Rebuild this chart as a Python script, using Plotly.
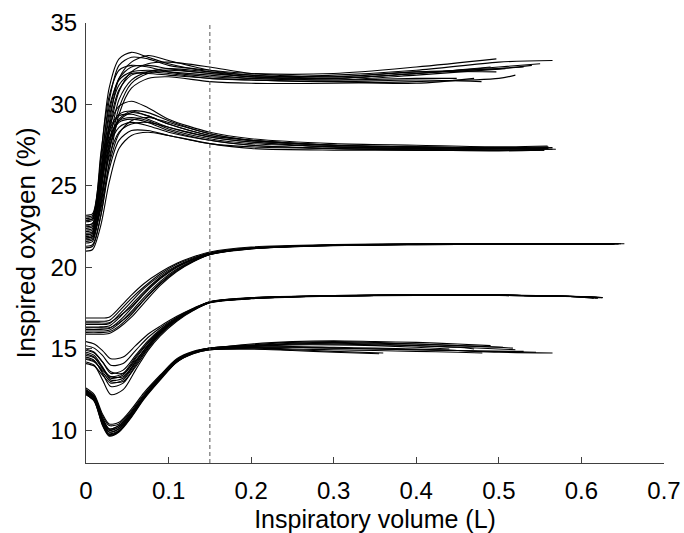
import plotly.graph_objects as go

# Sample positions (L) shared by the curves of each group; every curve ends at its own volume.
GRID_HI = [0, 0.008, 0.018, 0.028, 0.04, 0.055, 0.075, 0.1, 0.15, 0.2, 0.3, 0.4, 0.5]
GRID_21 = [0, 0.015, 0.028, 0.04, 0.055, 0.07, 0.09, 0.11, 0.13, 0.15, 0.2, 0.3, 0.4, 0.5, 0.6]
GRID_18 = [0, 0.01, 0.02, 0.03, 0.045, 0.06, 0.075, 0.09, 0.11, 0.13, 0.15, 0.2, 0.3, 0.4, 0.5, 0.6]
GRID_15 = [0, 0.01, 0.02, 0.028, 0.04, 0.055, 0.07, 0.09, 0.11, 0.13, 0.15, 0.2, 0.25, 0.3, 0.35, 0.4, 0.45, 0.5]

# Inspired O2 (%) per breath; last value sits at the breath's end volume.
O2_32 = [
    [22.0, 22.1, 26.8, 31.0, 32.8, 33.2, 32.9, 32.5, 32.0, 31.7, 31.8, 32.1, 32.6, 32.7],
    [22.6, 22.7, 26.0, 30.2, 32.4, 32.9, 32.8, 32.4, 32.1, 31.9, 31.9, 32.3, 32.8],
    [21.5, 21.6, 24.5, 28.8, 31.6, 32.6, 33.0, 32.7, 32.1, 31.8, 31.7, 32.0, 32.2, 32.4],
    [23.2, 23.3, 26.5, 29.8, 31.5, 32.0, 32.1, 32.0, 31.8, 31.6, 31.5, 31.6, 31.6],
    [22.3, 22.4, 25.2, 28.6, 30.9, 31.8, 32.0, 31.9, 31.6, 31.5, 31.4, 31.5, 31.4],
    [21.8, 21.9, 24.0, 27.5, 30.3, 31.5, 32.0, 32.2, 32.0, 31.8, 31.6, 31.9, 32.2, 32.3],
    [22.9, 23.0, 25.8, 29.5, 31.6, 32.3, 32.4, 32.2, 31.9, 31.7, 31.5, 31.8, 32.2],
    [21.2, 21.3, 23.2, 26.4, 29.4, 31.0, 31.6, 31.7, 31.4, 31.3, 31.3, 31.4, 31.6, 31.8],
    [22.1, 22.2, 24.8, 28.2, 30.8, 32.0, 32.5, 32.6, 32.3, 31.9, 31.7, 32.0, 32.0],
    [22.5, 22.6, 25.6, 29.2, 31.2, 31.9, 31.9, 31.8, 31.6, 31.5, 31.4, 31.3, 31.6],
    [21.7, 21.8, 23.8, 27.0, 29.8, 31.3, 31.9, 32.1, 31.9, 31.7, 31.6, 31.9, 32.3, 32.5],
    [23.0, 23.1, 27.0, 30.5, 32.1, 32.4, 32.3, 32.0, 31.7, 31.6, 31.6, 31.9, 32.3],
]
END_32 = [0.565, 0.497, 0.54, 0.449, 0.479, 0.53, 0.508, 0.52, 0.497, 0.47, 0.55, 0.49]

O2_27 = [
    [22.2, 22.3, 25.5, 28.6, 29.9, 30.2, 29.8, 29.1, 28.3, 27.9, 27.6, 27.5, 27.4, 27.45],
    [21.6, 21.7, 24.0, 27.2, 29.0, 29.5, 29.3, 28.8, 28.1, 27.8, 27.5, 27.4, 27.3, 27.25],
    [22.8, 22.9, 25.8, 28.2, 29.3, 29.4, 29.1, 28.6, 28.0, 27.7, 27.4, 27.3, 27.3, 27.3],
    [21.3, 21.4, 23.2, 26.0, 27.8, 28.4, 28.4, 28.1, 27.6, 27.4, 27.3, 27.2, 27.2, 27.2],
    [22.4, 22.5, 24.8, 27.6, 29.1, 29.6, 29.5, 29.0, 28.2, 27.8, 27.5, 27.4, 27.35, 27.4],
    [21.9, 22.0, 24.3, 26.8, 28.3, 28.8, 28.9, 28.6, 28.0, 27.7, 27.4, 27.3, 27.2, 27.2],
    [23.1, 23.2, 26.0, 28.4, 29.4, 29.6, 29.3, 28.8, 28.1, 27.8, 27.5, 27.4, 27.3, 27.35],
    [21.0, 21.1, 22.6, 25.2, 27.3, 28.1, 28.3, 28.1, 27.6, 27.3, 27.2, 27.2, 27.15, 27.2],
    [22.6, 22.7, 25.2, 27.9, 29.0, 29.2, 29.0, 28.5, 27.9, 27.6, 27.4, 27.3, 27.3, 27.35],
    [21.8, 21.9, 23.6, 26.3, 28.2, 29.0, 29.2, 28.9, 28.2, 27.8, 27.5, 27.35, 27.3, 27.3],
    [22.0, 22.1, 24.9, 27.4, 28.6, 28.9, 28.7, 28.3, 27.8, 27.5, 27.3, 27.25, 27.2, 27.2],
    [22.9, 23.0, 25.4, 27.8, 28.9, 29.1, 28.9, 28.4, 27.8, 27.5, 27.3, 27.2, 27.2, 27.25],
]
END_27 = [0.559, 0.569, 0.55, 0.545, 0.56, 0.555, 0.565, 0.55, 0.56, 0.56, 0.555, 0.565]

O2_21 = [
    [16.9, 16.9, 16.95, 17.5, 18.3, 19.0, 19.7, 20.25, 20.65, 20.95, 21.25, 21.4, 21.45, 21.45, 21.45, 21.45],
    [16.7, 16.7, 16.75, 17.3, 18.1, 18.8, 19.6, 20.2, 20.6, 20.9, 21.2, 21.38, 21.43, 21.45, 21.45, 21.45],
    [16.5, 16.5, 16.55, 17.1, 17.9, 18.7, 19.5, 20.1, 20.55, 20.88, 21.2, 21.37, 21.42, 21.44, 21.44, 21.44],
    [16.35, 16.35, 16.4, 16.9, 17.7, 18.5, 19.4, 20.05, 20.5, 20.85, 21.18, 21.36, 21.42, 21.44, 21.44, 21.44],
    [16.2, 16.2, 16.25, 16.7, 17.5, 18.35, 19.3, 20.0, 20.48, 20.83, 21.17, 21.36, 21.41, 21.43, 21.43, 21.43],
    [16.1, 16.1, 16.15, 16.55, 17.3, 18.15, 19.15, 19.9, 20.42, 20.8, 21.15, 21.35, 21.41, 21.43, 21.43, 21.43],
    [16.0, 16.0, 16.05, 16.4, 17.1, 18.0, 19.05, 19.85, 20.4, 20.8, 21.15, 21.35, 21.4, 21.42, 21.42, 21.42],
    [15.9, 15.9, 15.95, 16.3, 16.95, 17.8, 18.9, 19.75, 20.35, 20.78, 21.14, 21.34, 21.4, 21.42, 21.42, 21.42],
    [16.6, 16.6, 16.6, 17.0, 17.6, 18.4, 19.35, 20.05, 20.5, 20.85, 21.18, 21.37, 21.43, 21.45, 21.45, 21.45],
    [16.3, 16.3, 16.3, 16.6, 17.2, 18.0, 19.0, 19.8, 20.38, 20.8, 21.16, 21.36, 21.42, 21.44, 21.44, 21.44],
]
END_21 = [0.652, 0.648, 0.645, 0.64, 0.64, 0.635, 0.63, 0.63, 0.645, 0.638]

O2_18 = [
    [15.45, 15.3, 14.9, 14.4, 14.5, 15.2, 15.9, 16.4, 17.0, 17.5, 17.9, 18.15, 18.27, 18.32, 18.3, 18.2, 18.15],
    [15.0, 14.8, 14.2, 13.5, 13.7, 14.6, 15.5, 16.2, 16.9, 17.45, 17.88, 18.12, 18.26, 18.3, 18.3, 18.2, 18.15],
    [14.8, 14.6, 13.9, 13.2, 13.4, 14.4, 15.35, 16.1, 16.85, 17.42, 17.87, 18.1, 18.25, 18.3, 18.3, 18.2, 18.15],
    [14.5, 14.3, 13.5, 12.7, 12.9, 14.0, 15.1, 15.95, 16.8, 17.4, 17.85, 18.1, 18.25, 18.3, 18.28, 18.2, 18.12],
    [14.2, 14.0, 13.1, 12.2, 12.5, 13.7, 14.9, 15.8, 16.7, 17.35, 17.83, 18.08, 18.24, 18.28, 18.28, 18.18, 18.1],
    [14.4, 14.25, 13.6, 13.0, 13.0, 13.9, 15.0, 15.9, 16.75, 17.38, 17.84, 18.1, 18.25, 18.3, 18.3, 18.2, 18.15],
    [14.9, 14.75, 14.2, 13.6, 13.5, 14.3, 15.2, 16.0, 16.8, 17.4, 17.86, 18.12, 18.26, 18.31, 18.3, 18.2, 18.14],
    [14.6, 14.45, 13.8, 13.3, 13.5, 14.5, 15.4, 16.15, 16.88, 17.44, 17.88, 18.12, 18.26, 18.3, 18.3, 18.2, 18.15],
    [14.1, 13.95, 13.4, 12.9, 13.1, 14.1, 15.1, 15.95, 16.78, 17.4, 17.85, 18.1, 18.25, 18.3, 18.29, 18.2, 18.13],
    [15.2, 15.05, 14.6, 14.0, 14.1, 14.9, 15.7, 16.3, 16.95, 17.48, 17.9, 18.14, 18.27, 18.32, 18.31, 18.21, 18.16],
    [14.35, 14.2, 13.7, 13.3, 13.3, 14.2, 15.2, 16.05, 16.85, 17.43, 17.87, 18.11, 18.25, 18.3, 18.3, 18.2, 18.14],
    [14.7, 14.5, 13.85, 13.1, 13.2, 14.2, 15.25, 16.05, 16.84, 17.42, 17.86, 18.1, 18.25, 18.3, 18.3, 18.2, 18.13],
]
END_18 = [0.626, 0.622, 0.62, 0.618, 0.615, 0.62, 0.625, 0.62, 0.619, 0.624, 0.62, 0.62]

O2_15 = [
    [12.5, 12.1, 10.8, 10.1, 10.3, 11.1, 12.1, 13.3, 14.3, 14.8, 15.05, 15.2, 15.3, 15.3, 15.25, 15.2, 15.1, 15.0, 14.95],
    [12.3, 11.9, 10.5, 9.8, 10.0, 10.9, 12.0, 13.2, 14.2, 14.75, 15.0, 15.1, 15.15, 15.1, 15.05, 15.0, 14.9, 14.8, 14.75],
    [12.4, 12.0, 10.6, 9.9, 10.1, 11.0, 12.0, 13.25, 14.3, 14.8, 15.0, 15.3, 15.45, 15.5, 15.45, 15.4, 15.3, 15.2],
    [12.2, 11.8, 10.3, 9.65, 9.9, 10.8, 11.9, 13.1, 14.2, 14.7, 14.95, 15.0, 14.95, 14.85, 14.75],
    [12.6, 12.2, 11.0, 10.4, 10.5, 11.3, 12.3, 13.4, 14.4, 14.85, 15.05, 15.2, 15.35, 15.4, 15.35, 15.3, 15.2, 15.1, 15.05],
    [12.3, 11.95, 10.6, 10.0, 10.2, 11.0, 12.0, 13.2, 14.25, 14.75, 14.95, 15.05, 15.0, 14.95, 14.9, 14.85, 14.8, 14.75],
    [12.45, 12.05, 10.7, 10.05, 10.2, 11.05, 12.05, 13.25, 14.3, 14.8, 15.05, 15.25, 15.4, 15.45, 15.4, 15.3, 15.2, 15.1],
    [12.25, 11.85, 10.4, 9.75, 9.95, 10.85, 11.95, 13.15, 14.2, 14.72, 14.95, 15.0, 14.9, 14.8, 14.7],
    [12.35, 11.95, 10.55, 9.9, 10.1, 10.95, 12.0, 13.2, 14.25, 14.78, 15.0, 15.15, 15.25, 15.25, 15.2, 15.1, 15.0],
    [12.5, 12.1, 10.9, 10.3, 10.4, 11.2, 12.2, 13.35, 14.35, 14.82, 15.05, 15.1, 15.1, 15.05, 15.0, 14.95, 14.9, 14.85, 14.8],
    [12.2, 11.8, 10.35, 9.7, 9.95, 10.9, 12.0, 13.2, 14.25, 14.75, 14.98, 15.15, 15.3, 15.35, 15.3, 15.2, 15.1, 15.0],
    [12.4, 12.0, 10.7, 10.1, 10.3, 11.1, 12.1, 13.3, 14.3, 14.8, 15.02, 15.1, 15.1, 15.05, 15.0, 14.95, 14.9, 14.85, 14.85],
]
END_15 = [0.52, 0.565, 0.49, 0.36, 0.517, 0.48, 0.505, 0.355, 0.44, 0.545, 0.47, 0.53]

X_TICKS = [0, 0.1, 0.2, 0.3, 0.4, 0.5, 0.6, 0.7]
X_TICK_TEXT = ["0", "0.1", "0.2", "0.3", "0.4", "0.5", "0.6", "0.7"]
Y_TICKS = [10, 15, 20, 25, 30, 35]
MARK_VOLUME = 0.15

GROUPS = [
    (GRID_HI, O2_32, END_32),
    (GRID_HI, O2_27, END_27),
    (GRID_21, O2_21, END_21),
    (GRID_18, O2_18, END_18),
    (GRID_15, O2_15, END_15),
]

FONT = "Liberation Sans, Arial, Helvetica, sans-serif"

fig = go.Figure()
for grid, breaths, ends in GROUPS:
    for ys, end in zip(breaths, ends):
        xs = grid[: len(ys) - 1] + [end]
        fig.add_trace(go.Scatter(
            x=xs, y=ys, mode="lines",
            line=dict(color="black", width=1.1, shape="spline", smoothing=0.8),
            hoverinfo="skip", showlegend=False,
        ))

fig.add_shape(
    type="line", xref="x", yref="y",
    x0=MARK_VOLUME, x1=MARK_VOLUME, y0=8, y1=35,
    line=dict(color="#555555", width=1, dash="4px,3px"),
)

axis_common = dict(
    showgrid=False, zeroline=False, showline=True, linecolor="#404040", linewidth=1,
    ticks="inside", ticklen=6, tickcolor="#404040", tickwidth=1,
    tickfont=dict(family=FONT, size=24, color="black"),
    mirror=False, automargin=False,
)

fig.update_layout(
    width=684, height=533,
    margin=dict(l=86, r=20, t=23, b=70),
    paper_bgcolor="white", plot_bgcolor="white",
    font=dict(family=FONT, color="black"),
    xaxis=dict(
        range=[0, 0.7], tickvals=X_TICKS, ticktext=X_TICK_TEXT,
        ticklabelstandoff=6,
        title=dict(text="Inspiratory volume (L)", font=dict(family=FONT, size=25), standoff=8),
        **axis_common,
    ),
    yaxis=dict(
        range=[8, 35], tickvals=Y_TICKS,
        ticklabelstandoff=3,
        title=dict(text="Inspired oxygen (%)", font=dict(family=FONT, size=26), standoff=7),
        **axis_common,
    ),
)

fig.write_html("out.html")
